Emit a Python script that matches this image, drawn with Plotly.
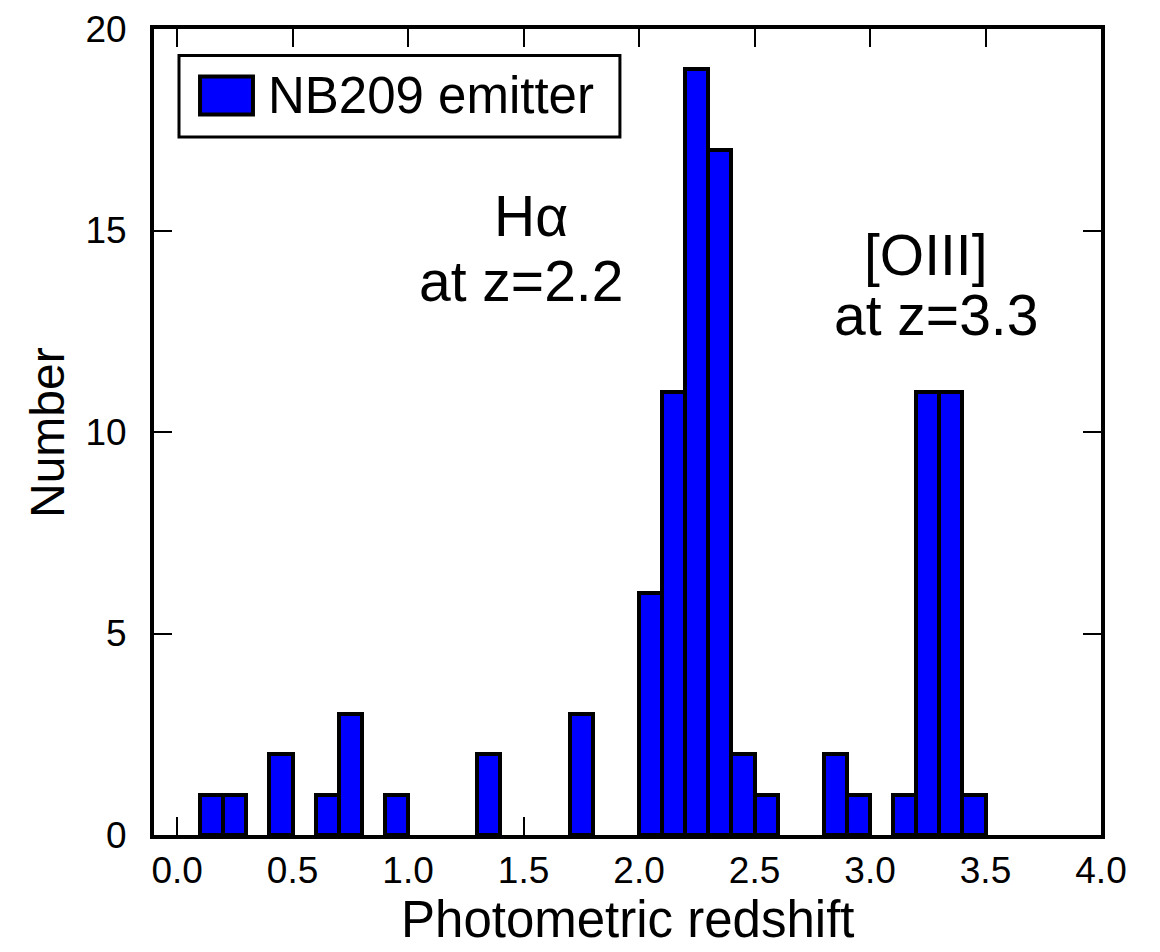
import plotly.graph_objects as go

# Histogram data (bin width 0.1)
bin_centers = [0.15, 0.25, 0.45, 0.65, 0.75, 0.95, 1.35, 1.75, 2.05, 2.15,
               2.25, 2.35, 2.45, 2.55, 2.85, 2.95, 3.15, 3.25, 3.35, 3.45]
counts = [1, 1, 2, 1, 3, 1, 2, 3, 6, 11, 19, 17, 2, 1, 2, 1, 1, 11, 11, 1]
bin_width = 0.1

x_tickvals = [0.0, 0.5, 1.0, 1.5, 2.0, 2.5, 3.0, 3.5, 4.0]
x_ticktext = ["0.0", "0.5", "1.0", "1.5", "2.0", "2.5", "3.0", "3.5", "4.0"]
y_tickvals = [0, 5, 10, 15, 20]
y_ticktext = ["0", "5", "10", "15", "20"]

FONT = "Liberation Sans, Arial, Helvetica, sans-serif"

fig = go.Figure()
fig.add_trace(go.Bar(
    x=bin_centers, y=counts, width=bin_width, name="NB209 emitter",
    marker=dict(color="#0000FF", line=dict(color="black", width=4)),
    showlegend=False,
))

axis_common = dict(
    showline=True, linecolor="black", linewidth=4, mirror="ticks",
    ticks="inside", ticklen=18, tickwidth=2, tickcolor="black",
    showgrid=False, zeroline=False, automargin=False,
    ticklabeloverflow="allow",
    tickfont=dict(family=FONT, size=37, color="black"),
)

fig.update_xaxes(
    range=[-0.1, 4.0], tickvals=x_tickvals, ticktext=x_ticktext,
    ticklabelstandoff=0,
    **axis_common,
)
fig.update_yaxes(
    range=[0, 20], tickvals=y_tickvals, ticktext=y_ticktext,
    ticklabelstandoff=16,
    **axis_common,
)

# Axis titles
fig.add_annotation(xref="paper", yref="paper", x=0.5, y=-0.1425,
                   xanchor="center", yanchor="bottom", showarrow=False,
                   text="Photometric redshift", font=dict(family=FONT, size=51, color="black"))
fig.add_annotation(xref="paper", yref="paper", x=-0.113, y=0.50,
                   xanchor="center", yanchor="middle", showarrow=False, textangle=-90,
                   text="Number", font=dict(family=FONT, size=48, color="black"))

# Legend drawn as a frame + swatch + label
fig.add_shape(type="rect", xref="paper", yref="paper",
              x0=0.0264, x1=0.492, y0=0.866, y1=0.967,
              line=dict(color="black", width=3), fillcolor="white", layer="above")
fig.add_shape(type="rect", xref="paper", yref="paper",
              x0=0.0486, x1=0.1045, y0=0.894, y1=0.941,
              line=dict(color="black", width=4), fillcolor="#0000FF", layer="above")
fig.add_annotation(xref="paper", yref="paper", x=0.118, y=0.917,
                   xanchor="left", yanchor="middle", showarrow=False,
                   text="NB209 emitter", font=dict(family=FONT, size=51, color="black"))

ann_font = dict(family=FONT, size=57, color="black")
fig.add_annotation(x=1.534, y=15.35, text="Hα", showarrow=False, font=ann_font)
fig.add_annotation(x=1.487, y=13.75, text="at z=2.2", showarrow=False, font=ann_font)
fig.add_annotation(x=3.242, y=14.4, text="[OIII]", showarrow=False, font=ann_font)
fig.add_annotation(x=3.286, y=12.9, text="at z=3.3", showarrow=False, font=ann_font)

# The page adds an 8px body margin, so the figure is 8px smaller than the window
fig.update_layout(
    width=1152, height=944,
    margin=dict(l=146, r=59, t=21, b=117),
    plot_bgcolor="white", paper_bgcolor="white",
    bargap=0,
    font=dict(family=FONT, color="black"),
)

fig.write_html("out.html")
